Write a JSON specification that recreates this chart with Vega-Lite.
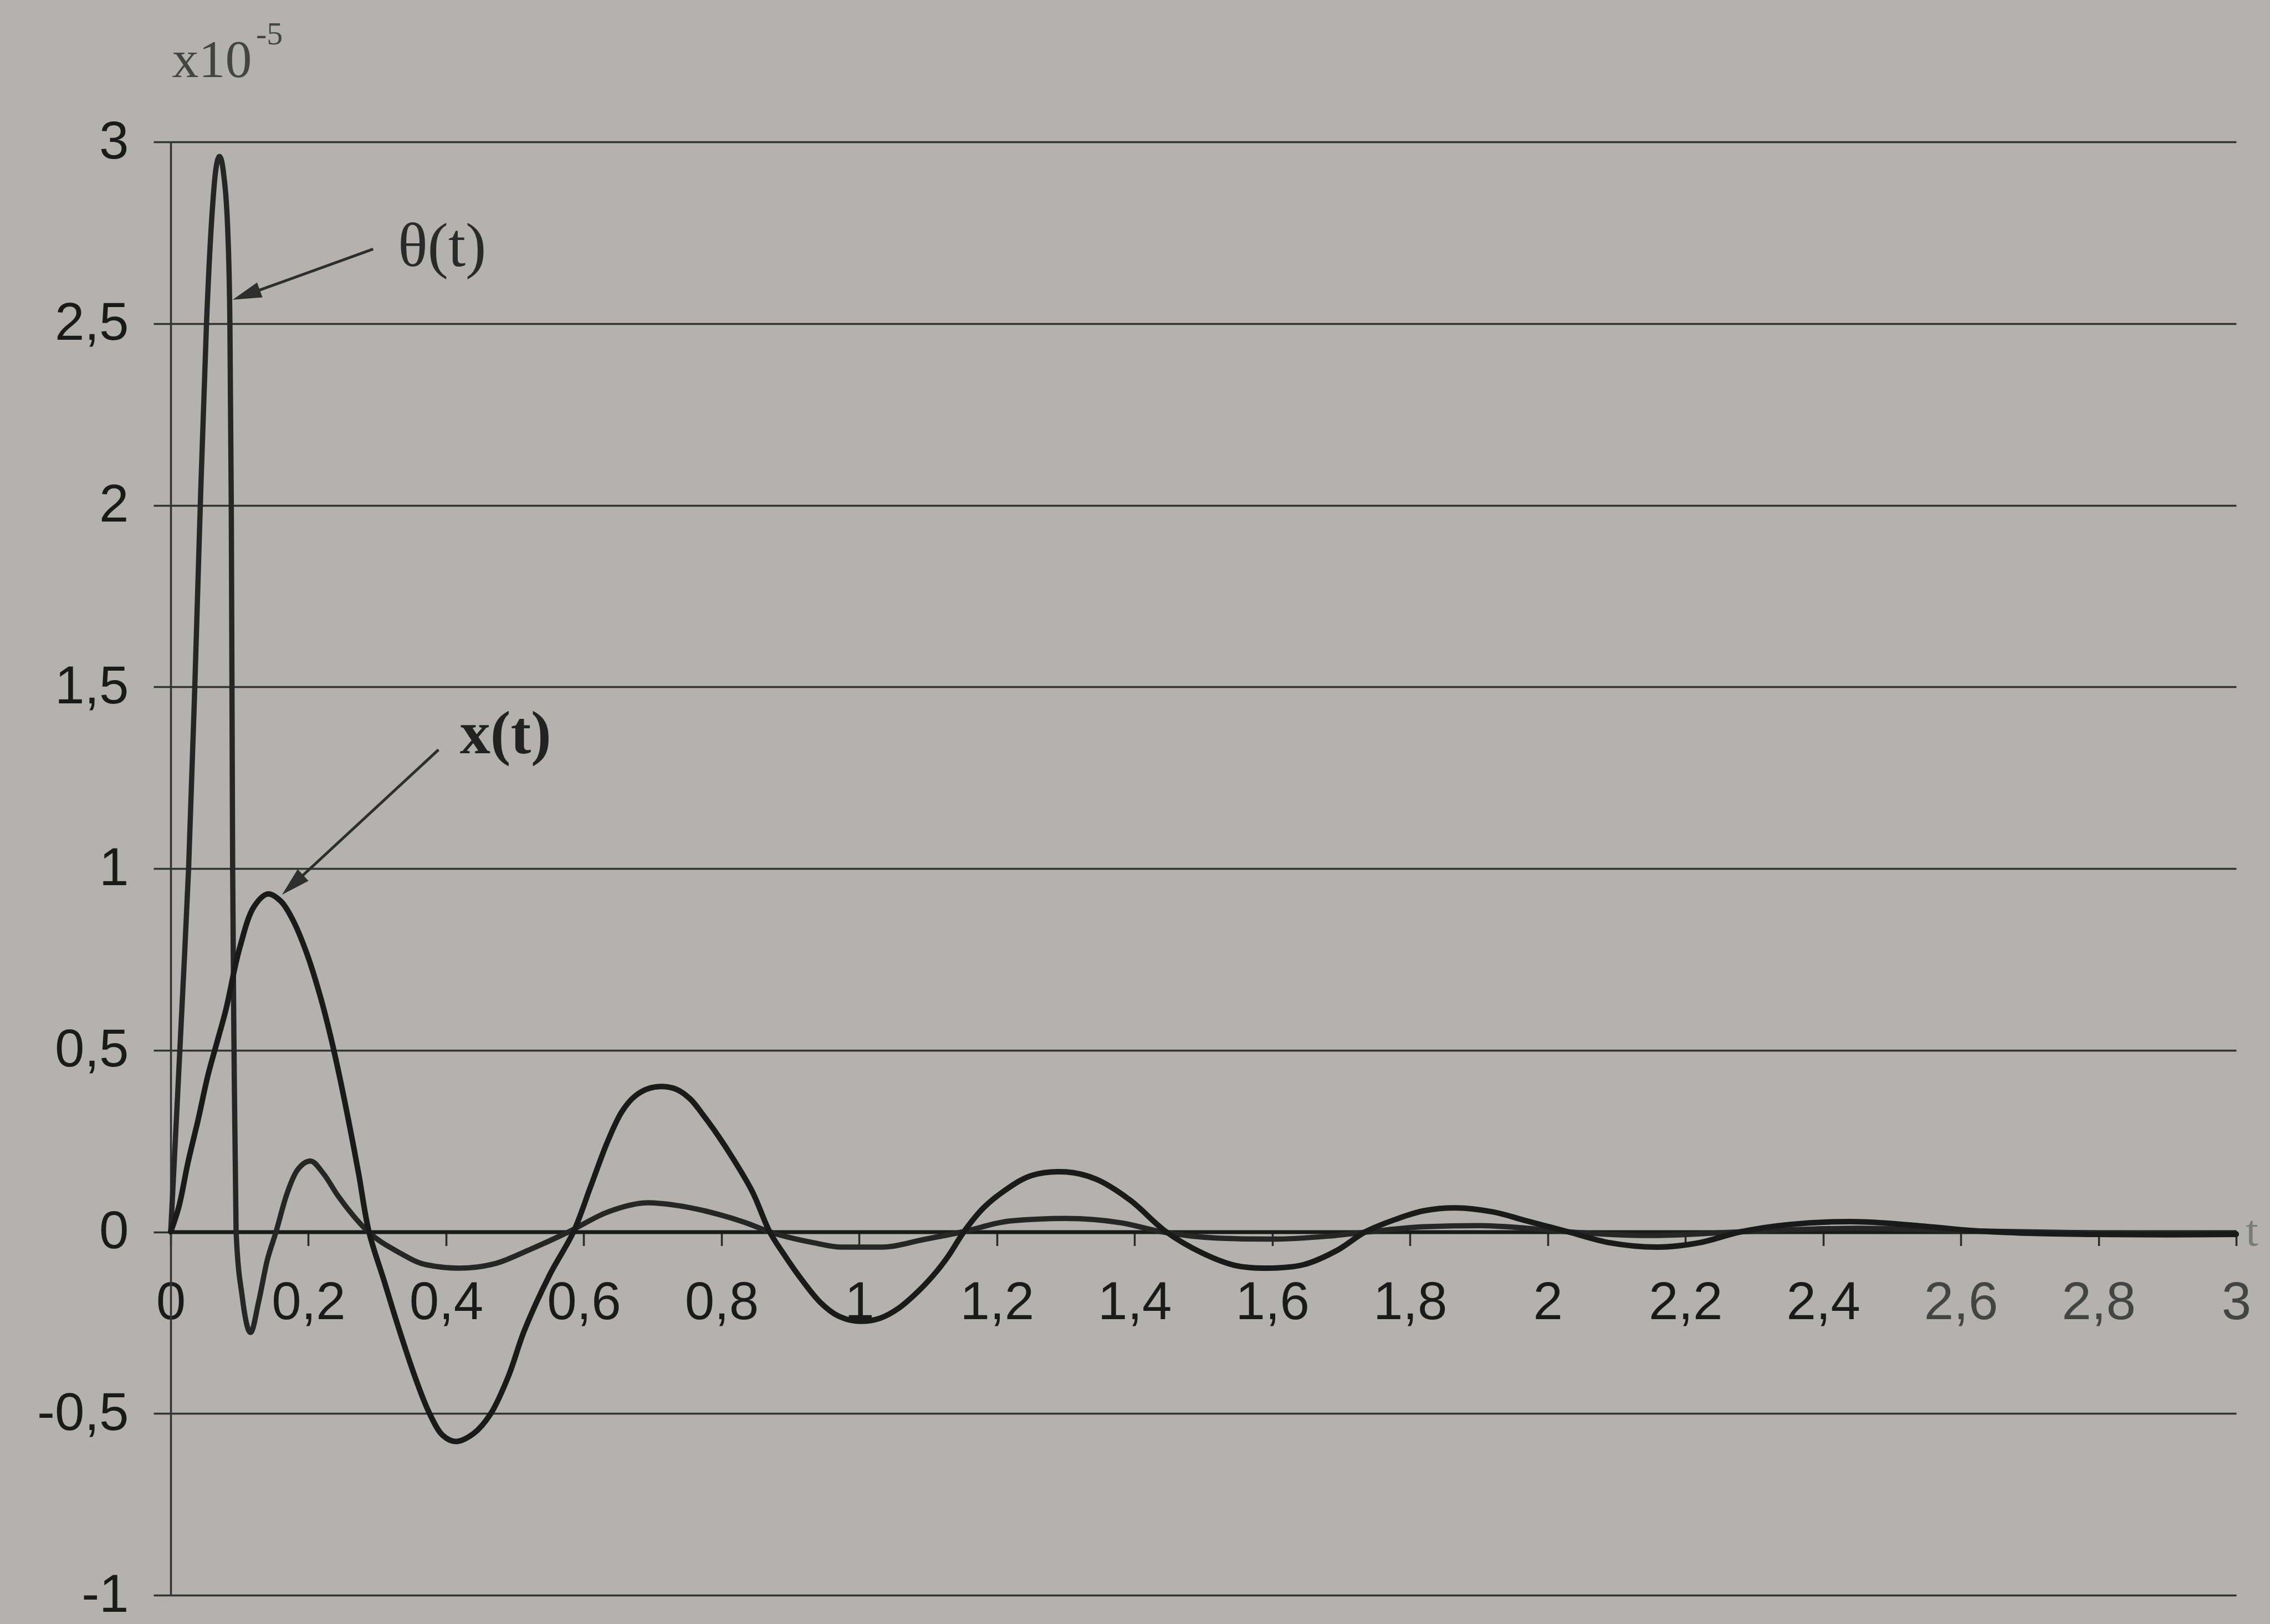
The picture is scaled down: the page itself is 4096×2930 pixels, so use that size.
{
  "$schema": "https://vega.github.io/schema/vega-lite/v6.json",
  "width": 3727,
  "height": 2622,
  "autosize": {"type": "none"},
  "padding": {"left": 308, "top": 256, "right": 61, "bottom": 52},
  "background": "#b3b2af",
  "config": {"view": {"stroke": null}},
  "datasets": {
    "xcurve": [
      {"s": "x(t)", "t": 0, "v": 0},
      {"s": "x(t)", "t": 0.012, "v": 0.07},
      {"s": "x(t)", "t": 0.025, "v": 0.19},
      {"s": "x(t)", "t": 0.04, "v": 0.31},
      {"s": "x(t)", "t": 0.054, "v": 0.43},
      {"s": "x(t)", "t": 0.067, "v": 0.52},
      {"s": "x(t)", "t": 0.08, "v": 0.61},
      {"s": "x(t)", "t": 0.1, "v": 0.78},
      {"s": "x(t)", "t": 0.121, "v": 0.895},
      {"s": "x(t)", "t": 0.141, "v": 0.93},
      {"s": "x(t)", "t": 0.16, "v": 0.91},
      {"s": "x(t)", "t": 0.177, "v": 0.86},
      {"s": "x(t)", "t": 0.197, "v": 0.77},
      {"s": "x(t)", "t": 0.217, "v": 0.65},
      {"s": "x(t)", "t": 0.232, "v": 0.54},
      {"s": "x(t)", "t": 0.245, "v": 0.43},
      {"s": "x(t)", "t": 0.26, "v": 0.29},
      {"s": "x(t)", "t": 0.273, "v": 0.16},
      {"s": "x(t)", "t": 0.288, "v": 0},
      {"s": "x(t)", "t": 0.31, "v": -0.135},
      {"s": "x(t)", "t": 0.332, "v": -0.27},
      {"s": "x(t)", "t": 0.355, "v": -0.4},
      {"s": "x(t)", "t": 0.376, "v": -0.5},
      {"s": "x(t)", "t": 0.395, "v": -0.56},
      {"s": "x(t)", "t": 0.414, "v": -0.577},
      {"s": "x(t)", "t": 0.44, "v": -0.555},
      {"s": "x(t)", "t": 0.465, "v": -0.5},
      {"s": "x(t)", "t": 0.49, "v": -0.4},
      {"s": "x(t)", "t": 0.514, "v": -0.27},
      {"s": "x(t)", "t": 0.55, "v": -0.12},
      {"s": "x(t)", "t": 0.585, "v": 0},
      {"s": "x(t)", "t": 0.61, "v": 0.125},
      {"s": "x(t)", "t": 0.634, "v": 0.246},
      {"s": "x(t)", "t": 0.655, "v": 0.33},
      {"s": "x(t)", "t": 0.674, "v": 0.373},
      {"s": "x(t)", "t": 0.695, "v": 0.395},
      {"s": "x(t)", "t": 0.714, "v": 0.4},
      {"s": "x(t)", "t": 0.735, "v": 0.392},
      {"s": "x(t)", "t": 0.755, "v": 0.365},
      {"s": "x(t)", "t": 0.774, "v": 0.32},
      {"s": "x(t)", "t": 0.795, "v": 0.265},
      {"s": "x(t)", "t": 0.814, "v": 0.21},
      {"s": "x(t)", "t": 0.845, "v": 0.11},
      {"s": "x(t)", "t": 0.87, "v": 0},
      {"s": "x(t)", "t": 0.89, "v": -0.06},
      {"s": "x(t)", "t": 0.912, "v": -0.12},
      {"s": "x(t)", "t": 0.944, "v": -0.195},
      {"s": "x(t)", "t": 0.97, "v": -0.232},
      {"s": "x(t)", "t": 1.0, "v": -0.246},
      {"s": "x(t)", "t": 1.03, "v": -0.238},
      {"s": "x(t)", "t": 1.056, "v": -0.212},
      {"s": "x(t)", "t": 1.085, "v": -0.165},
      {"s": "x(t)", "t": 1.112, "v": -0.11},
      {"s": "x(t)", "t": 1.13, "v": -0.065},
      {"s": "x(t)", "t": 1.152, "v": 0},
      {"s": "x(t)", "t": 1.18, "v": 0.065},
      {"s": "x(t)", "t": 1.21, "v": 0.112},
      {"s": "x(t)", "t": 1.25, "v": 0.155},
      {"s": "x(t)", "t": 1.3, "v": 0.165},
      {"s": "x(t)", "t": 1.344, "v": 0.145},
      {"s": "x(t)", "t": 1.393, "v": 0.088},
      {"s": "x(t)", "t": 1.446, "v": 0},
      {"s": "x(t)", "t": 1.498, "v": -0.058},
      {"s": "x(t)", "t": 1.547, "v": -0.093},
      {"s": "x(t)", "t": 1.59, "v": -0.1},
      {"s": "x(t)", "t": 1.646, "v": -0.09},
      {"s": "x(t)", "t": 1.695, "v": -0.05},
      {"s": "x(t)", "t": 1.735, "v": 0},
      {"s": "x(t)", "t": 1.78, "v": 0.035},
      {"s": "x(t)", "t": 1.82, "v": 0.058},
      {"s": "x(t)", "t": 1.867, "v": 0.066},
      {"s": "x(t)", "t": 1.92, "v": 0.055},
      {"s": "x(t)", "t": 1.97, "v": 0.03},
      {"s": "x(t)", "t": 2.03, "v": 0},
      {"s": "x(t)", "t": 2.09, "v": -0.03},
      {"s": "x(t)", "t": 2.16, "v": -0.042},
      {"s": "x(t)", "t": 2.22, "v": -0.03},
      {"s": "x(t)", "t": 2.28, "v": 0},
      {"s": "x(t)", "t": 2.35, "v": 0.02},
      {"s": "x(t)", "t": 2.45, "v": 0.028},
      {"s": "x(t)", "t": 2.55, "v": 0.015},
      {"s": "x(t)", "t": 2.62, "v": 0.003},
      {"s": "x(t)", "t": 2.7, "v": -0.004},
      {"s": "x(t)", "t": 2.8, "v": -0.007},
      {"s": "x(t)", "t": 2.9, "v": -0.008},
      {"s": "x(t)", "t": 3.0, "v": -0.007}
    ],
    "thcurve": [
      {"s": "θ(t)", "t": 0, "v": 0},
      {"s": "θ(t)", "t": 0.0095, "v": 0.355},
      {"s": "θ(t)", "t": 0.018, "v": 0.68},
      {"s": "θ(t)", "t": 0.026, "v": 1.0},
      {"s": "θ(t)", "t": 0.035, "v": 1.5},
      {"s": "θ(t)", "t": 0.043, "v": 2.0},
      {"s": "θ(t)", "t": 0.052, "v": 2.5},
      {"s": "θ(t)", "t": 0.06, "v": 2.8},
      {"s": "θ(t)", "t": 0.066, "v": 2.93},
      {"s": "θ(t)", "t": 0.071, "v": 2.96},
      {"s": "θ(t)", "t": 0.077, "v": 2.91},
      {"s": "θ(t)", "t": 0.083, "v": 2.75},
      {"s": "θ(t)", "t": 0.086, "v": 2.5},
      {"s": "θ(t)", "t": 0.088, "v": 2.0},
      {"s": "θ(t)", "t": 0.089, "v": 1.5},
      {"s": "θ(t)", "t": 0.09, "v": 1.0},
      {"s": "θ(t)", "t": 0.092, "v": 0.5},
      {"s": "θ(t)", "t": 0.095, "v": 0},
      {"s": "θ(t)", "t": 0.104, "v": -0.18},
      {"s": "θ(t)", "t": 0.116, "v": -0.277},
      {"s": "θ(t)", "t": 0.128, "v": -0.19},
      {"s": "θ(t)", "t": 0.14, "v": -0.08},
      {"s": "θ(t)", "t": 0.153, "v": 0},
      {"s": "θ(t)", "t": 0.168, "v": 0.1},
      {"s": "θ(t)", "t": 0.184, "v": 0.17},
      {"s": "θ(t)", "t": 0.203, "v": 0.195},
      {"s": "θ(t)", "t": 0.222, "v": 0.16},
      {"s": "θ(t)", "t": 0.243, "v": 0.099},
      {"s": "θ(t)", "t": 0.265, "v": 0.045},
      {"s": "θ(t)", "t": 0.287, "v": 0},
      {"s": "θ(t)", "t": 0.33, "v": -0.055},
      {"s": "θ(t)", "t": 0.37, "v": -0.09},
      {"s": "θ(t)", "t": 0.42, "v": -0.1},
      {"s": "θ(t)", "t": 0.47, "v": -0.088},
      {"s": "θ(t)", "t": 0.52, "v": -0.05},
      {"s": "θ(t)", "t": 0.578, "v": 0},
      {"s": "θ(t)", "t": 0.634, "v": 0.054},
      {"s": "θ(t)", "t": 0.694, "v": 0.08},
      {"s": "θ(t)", "t": 0.734, "v": 0.073},
      {"s": "θ(t)", "t": 0.794, "v": 0.049},
      {"s": "θ(t)", "t": 0.834, "v": 0.026},
      {"s": "θ(t)", "t": 0.87, "v": 0},
      {"s": "θ(t)", "t": 0.934, "v": -0.03},
      {"s": "θ(t)", "t": 0.974, "v": -0.042},
      {"s": "θ(t)", "t": 1.034, "v": -0.042},
      {"s": "θ(t)", "t": 1.094, "v": -0.021},
      {"s": "θ(t)", "t": 1.15, "v": 0},
      {"s": "θ(t)", "t": 1.22, "v": 0.03},
      {"s": "θ(t)", "t": 1.3, "v": 0.037},
      {"s": "θ(t)", "t": 1.38, "v": 0.025},
      {"s": "θ(t)", "t": 1.44, "v": 0},
      {"s": "θ(t)", "t": 1.52, "v": -0.017},
      {"s": "θ(t)", "t": 1.6, "v": -0.02},
      {"s": "θ(t)", "t": 1.68, "v": -0.012},
      {"s": "θ(t)", "t": 1.74, "v": 0},
      {"s": "θ(t)", "t": 1.82, "v": 0.014},
      {"s": "θ(t)", "t": 1.9, "v": 0.017},
      {"s": "θ(t)", "t": 1.97, "v": 0.01},
      {"s": "θ(t)", "t": 2.03, "v": 0},
      {"s": "θ(t)", "t": 2.15, "v": -0.01},
      {"s": "θ(t)", "t": 2.28, "v": 0},
      {"s": "θ(t)", "t": 2.45, "v": 0.01},
      {"s": "θ(t)", "t": 2.6, "v": 0.003},
      {"s": "θ(t)", "t": 2.8, "v": -0.003},
      {"s": "θ(t)", "t": 3.0, "v": -0.005}
    ],
    "arrows": [
      {"id": "theta", "t": 0.294, "v": 2.705, "t2": 0.11, "v2": 2.579},
      {"id": "x", "t": 0.389, "v": 1.327, "t2": 0.177, "v2": 0.955}
    ],
    "heads": [
      {"id": "theta", "t": 0.1097, "v": 2.579},
      {"id": "x", "t": 0.177, "v": 0.955}
    ],
    "labels": [
      {"id": "theta", "t": 0.33, "v": 2.71, "text": "θ(t)"},
      {"id": "x", "t": 0.42, "v": 1.367, "text": "x(t)"},
      {"id": "x10", "t": 0.002, "v": 3.223, "text": "x10"},
      {"id": "exp", "t": 0.124, "v": 3.295, "text": "-5"},
      {"id": "t", "t": 3.014, "v": 0.0, "text": "t"}
    ]
  },
  "encoding": {
    "x": {
      "field": "t",
      "type": "quantitative",
      "scale": {"domain": [0, 3], "nice": false, "zero": false},
      "axis": {
        "orient": "bottom",
        "offset": -655.5,
        "values": [0, 0.2, 0.4, 0.6, 0.8, 1, 1.2, 1.4, 1.6, 1.8, 2, 2.2, 2.4, 2.6, 2.8, 3],
        "labelExpr": "replace('' + datum.value, '.', ',')",
        "title": null,
        "grid": false,
        "domainColor": "#1a1a1a",
        "domainWidth": 7,
        "tickColor": "#2a2a2a",
        "tickWidth": 3.5,
        "tickSize": 25,
        "labelFont": "Liberation Sans",
        "labelFontSize": 96,
        "labelColor": {"condition": {"test": "datum.value >= 2.5", "value": "#444444"}, "value": "#1a1a1a"},
        "labelPadding": 56,
        "labelFlush": false,
        "labelOverlap": false,
        "labelBound": false
      }
    },
    "y": {
      "field": "v",
      "type": "quantitative",
      "scale": {"domain": [-1, 3], "nice": false, "zero": false},
      "axis": {
        "values": [-1, -0.5, 0, 0.5, 1, 1.5, 2, 2.5, 3],
        "labelExpr": "replace('' + datum.value, '.', ',')",
        "title": null,
        "grid": true,
        "gridColor": "#333333",
        "gridWidth": 3.5,
        "domainColor": "#333333",
        "domainWidth": 3.5,
        "tickColor": "#333333",
        "tickWidth": 3.5,
        "tickSize": 31,
        "labelFont": "Liberation Sans",
        "labelFontSize": 96,
        "labelColor": "#1a1a1a",
        "labelPadding": 45,
        "labelFlush": false,
        "labelOverlap": false
      }
    }
  },
  "layer": [
    {
      "data": {"name": "thcurve"},
      "mark": {"type": "line", "interpolate": "monotone", "strokeWidth": 9.5, "strokeCap": "round", "strokeJoin": "round", "color": "#262626"}
    },
    {
      "data": {"name": "xcurve"},
      "mark": {"type": "line", "interpolate": "catmull-rom", "strokeWidth": 10, "strokeCap": "round", "strokeJoin": "round", "color": "#1a1a1a"}
    },
    {
      "data": {"name": "arrows"},
      "mark": {"type": "rule", "color": "#2e2e2e", "strokeWidth": 5},
      "encoding": {"x2": {"field": "t2"}, "y2": {"field": "v2"}}
    },
    {
      "data": {"name": "heads"},
      "transform": [{"filter": "datum.id == 'theta'"}],
      "mark": {"type": "point", "shape": "M0,-1L-0.55,1L0.55,1Z", "filled": true, "size": 2704, "angle": 250, "color": "#2e2e2e", "opacity": 1, "strokeWidth": 0}
    },
    {
      "data": {"name": "heads"},
      "transform": [{"filter": "datum.id == 'x'"}],
      "mark": {"type": "point", "shape": "M0,-1L-0.55,1L0.55,1Z", "filled": true, "size": 2704, "angle": 227, "color": "#2e2e2e", "opacity": 1, "strokeWidth": 0}
    },
    {
      "data": {"name": "labels"},
      "transform": [{"filter": "datum.id == 'theta'"}],
      "mark": {"type": "text", "font": "Liberation Serif", "fontSize": 112, "align": "left", "baseline": "middle", "color": "#2a2a2a"},
      "encoding": {"text": {"field": "text"}}
    },
    {
      "data": {"name": "labels"},
      "transform": [{"filter": "datum.id == 'x'"}],
      "mark": {"type": "text", "font": "Liberation Serif", "fontSize": 110, "fontWeight": "bold", "align": "left", "baseline": "middle", "color": "#222222"},
      "encoding": {"text": {"field": "text"}}
    },
    {
      "data": {"name": "labels"},
      "transform": [{"filter": "datum.id == 'x10'"}],
      "mark": {"type": "text", "font": "Liberation Serif", "fontSize": 96, "align": "left", "baseline": "middle", "color": "#444444"},
      "encoding": {"text": {"field": "text"}}
    },
    {
      "data": {"name": "labels"},
      "transform": [{"filter": "datum.id == 'exp'"}],
      "mark": {"type": "text", "font": "Liberation Serif", "fontSize": 58, "align": "left", "baseline": "middle", "color": "#444444"},
      "encoding": {"text": {"field": "text"}}
    },
    {
      "data": {"name": "labels"},
      "transform": [{"filter": "datum.id == 't'"}],
      "mark": {"type": "text", "font": "Liberation Serif", "fontSize": 80, "align": "left", "baseline": "middle", "color": "#7a7a7a"},
      "encoding": {"text": {"field": "text"}}
    }
  ]
}
